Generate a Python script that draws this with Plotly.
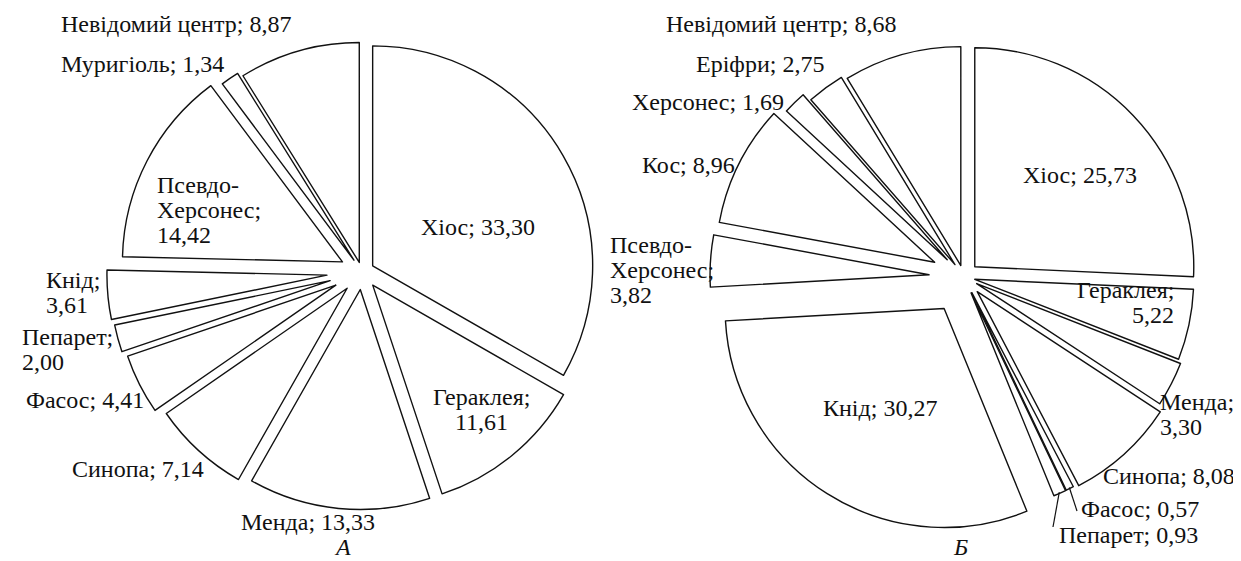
import math
import plotly.graph_objects as go

W, H = 1241, 561

# ---------------- data ----------------
names_a = ["Хіос", "Гераклея", "Менда", "Синопа", "Фасос", "Пепарет", "Кнід",
           "Псевдо-Херсонес", "Муригіоль", "Невідомий центр"]
values_a = [33.30, 11.61, 13.33, 7.14, 4.41, 2.00, 3.61, 14.42, 1.34, 8.87]

names_b = ["Хіос", "Гераклея", "Менда", "Синопа", "Фасос", "Пепарет", "Кнід",
           "Псевдо-Херсонес", "Кос", "Херсонес", "Еріфри", "Невідомий центр"]
values_b = [25.73, 5.22, 3.30, 8.08, 0.57, 0.93, 30.27, 3.82, 8.96, 1.69, 2.75, 8.68]

panel_titles = ["А", "Б"]

# ---------------- style / layout ----------------
FONT = "Liberation Serif"
FS = 24
LINE_GAP = 25
Y_OFF = -6

radius_a, center_a = 220, (354, 264)
radius_b, center_b = 219, (956, 269)
pull_a = [0.056, 0.077, 0.08, 0.10, 0.133, 0.15, 0.16, 0.10, 0.065, 0.045]
pull_b = [0.068, 0.05, 0.065, 0.09, 0.08, 0.08, 0.17, 0.16, 0.15, 0.11, 0.07, 0.054]

# label placement: (mode, x_px, y_px of first line, xanchor, leader end offset)
lab_a = [
    ("one", 470, 225, "center", None),
    ("two", 474, 395, "center", None),
    ("one", 300, 520, "center", None),
    ("one", 198, 467, "right", None),
    ("one", 138, 398, "right", None),
    ("two", 12, 335, "left", None),
    ("two", 36, 278, "left", None),
    ("three", 147, 183, "left", None),
    ("one", 51, 62, "left", None),
    ("one", 51, 22, "left", None),
]
lab_b = [
    ("one", 1072, 173, "center", None),
    ("two", 1168, 288, "right", None),
    ("two", 1150, 400, "left", None),
    ("one", 1229, 474, "right", None),
    ("one", 1071, 507, "left", (-2, -4)),
    ("one", 1049, 533, "left", (-4, -14)),
    ("one", 872, 406, "center", None),
    ("three", 600, 243, "left", None),
    ("one", 632, 163, "left", None),
    ("one", 622, 100, "left", None),
    ("one", 818, 62, "right", None),
    ("one", 656, 22, "left", None),
]
title_pos = [(334, 545), (952, 545)]


def fmt(v):
    return f"{v:.2f}".replace(".", ",")


def label_lines(mode, name, value):
    if mode == "one":
        return [f"{name}; {fmt(value)}"]
    if mode == "two":
        return [f"{name};", fmt(value)]
    head, tail = name.split("-", 1)
    return [head + "-", tail + ";", fmt(value)]


def domain(c, r, pulls):
    half = r * (1 + max(pulls))
    cx, cy = c
    return dict(x=[(cx - half) / W, (cx + half) / W],
                y=[1 - (cy + half) / H, 1 - (cy - half) / H])


def txt(text, x, y, anchor):
    return dict(text=text, x=x / W, y=1 - (y + Y_OFF) / H,
                xref="paper", yref="paper", xanchor=anchor, yanchor="middle",
                showarrow=False, font=dict(family=FONT, size=FS, color="#111111"))


fig = go.Figure()
annotations = []
shapes = []

for names, values, pulls, c, r, labs in [
    (names_a, values_a, pull_a, center_a, radius_a, lab_a),
    (names_b, values_b, pull_b, center_b, radius_b, lab_b),
]:
    fig.add_trace(go.Pie(
        labels=names, values=values, sort=False, direction="clockwise",
        rotation=0, pull=pulls, textinfo="none", hoverinfo="label+value",
        marker=dict(colors=["white"] * len(values),
                    line=dict(color="#111111", width=1.4)),
        domain=domain(c, r, pulls), showlegend=False,
    ))
    total = sum(values)
    cum = 0.0
    for name, v, p, (mode, x, y, anchor, leader) in zip(names, values, pulls, labs):
        for k, line in enumerate(label_lines(mode, name, v)):
            annotations.append(txt(line, x, y + k * LINE_GAP, anchor))
        if leader:
            ang = math.radians((cum + v / 2) / total * 360)
            dist = r * (1 + p) * 0.995
            tx = c[0] + dist * math.sin(ang)
            ty = c[1] - dist * math.cos(ang)
            shapes.append(dict(type="line", xref="paper", yref="paper",
                               x0=tx / W, y0=1 - ty / H,
                               x1=(x + leader[0]) / W, y1=1 - (y + leader[1]) / H,
                               line=dict(color="#111111", width=1.2)))
        cum += v

for t, (x, y) in zip(panel_titles, title_pos):
    annotations.append(txt(f"<i>{t}</i>", x, y, "center"))

fig.update_layout(
    width=W, height=H, margin=dict(l=0, r=0, t=0, b=0),
    paper_bgcolor="white", plot_bgcolor="white",
    font=dict(family=FONT),
    annotations=annotations, shapes=shapes,
)

fig.write_html("out.html")
